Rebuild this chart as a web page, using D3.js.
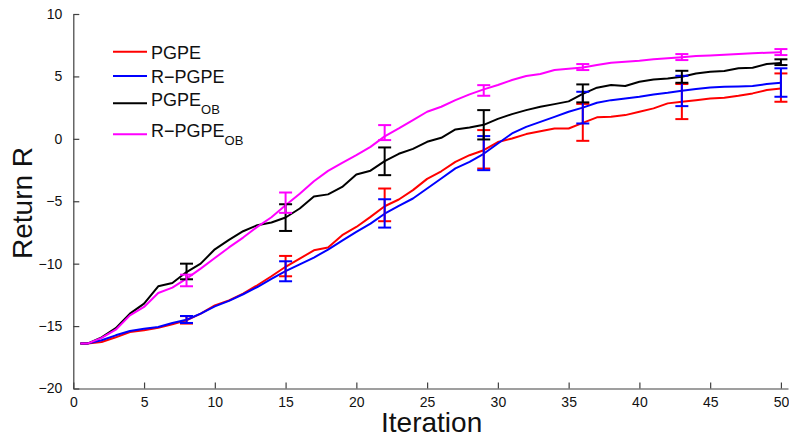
<!DOCTYPE html>
<html>
<head>
<meta charset="utf-8">
<script src="https://cdn.jsdelivr.net/npm/d3@7/dist/d3.min.js"></script>
<style>
  html, body { margin: 0; padding: 0; background: #fff; }
  svg { display: block; font-family: "Liberation Sans", Arial, Helvetica, sans-serif; }
</style>
</head>
<body>
<svg id="chart" width="789" height="436"></svg>
<script>
// ---------------- data ----------------
const iterations = [0.5, 1, 2, 3, 4, 5, 6, 7, 8, 9, 10, 11, 12, 13, 14, 15, 16, 17, 18, 19, 20,
  21, 22, 23, 24, 25, 26, 27, 28, 29, 30, 31, 32, 33, 34, 35, 36, 37, 38, 39, 40,
  41, 42, 43, 44, 45, 46, 47, 48, 49, 50];

const pgpe = [-16.4, -16.4, -16.28, -15.9, -15.47, -15.34, -15.13, -14.86, -14.54, -14.0, -13.34,
  -12.94, -12.4, -11.73, -11.01, -10.25, -9.6, -8.93, -8.7, -7.72, -7.06,
  -6.25, -5.4, -4.86, -4.11, -3.21, -2.6, -1.84, -1.31, -0.91, -0.26,
  0.03, 0.38, 0.6, 0.83, 0.83, 1.28, 1.72, 1.76, 1.9, 2.17,
  2.44, 2.84, 2.97, 3.1, 3.24, 3.29, 3.45, 3.64, 3.91, 4.04];

const rpgpe = [-16.4, -16.4, -16.14, -15.74, -15.39, -15.21, -15.07, -14.75, -14.49, -14.0, -13.42,
  -12.98, -12.45, -11.87, -11.22, -10.6, -10.05, -9.51, -8.87, -8.15, -7.46,
  -6.79, -6.0, -5.37, -4.78, -3.98, -3.18, -2.37, -1.84, -1.2, -0.37,
  0.43, 0.96, 1.36, 1.76, 2.17, 2.5, 2.89, 3.1, 3.24, 3.37,
  3.56, 3.69, 3.85, 3.99, 4.12, 4.17, 4.2, 4.23, 4.39, 4.49];

const pgpeOB = [-16.4, -16.4, -15.9, -15.16, -14.0, -13.2, -11.81, -11.55, -10.67, -10.0, -8.85,
  -8.1, -7.4, -6.92, -6.7, -6.3, -5.58, -4.62, -4.45, -3.85, -2.85,
  -2.55, -1.78, -1.2, -0.8, -0.24, 0.08, 0.75, 0.91, 1.12, 1.6,
  1.98, 2.3, 2.57, 2.78, 3.0, 3.6, 4.1, 4.31, 4.23, 4.57,
  4.76, 4.84, 4.97, 5.24, 5.37, 5.43, 5.65, 5.69, 5.99, 6.07];

const rpgpeOB = [-16.4, -16.4, -15.95, -15.29, -14.14, -13.47, -12.35, -11.92, -11.2, -10.4, -9.55,
  -8.7, -7.91, -7.05, -6.28, -5.32, -4.4, -3.4, -2.57, -1.92, -1.31,
  -0.64, 0.2, 0.83, 1.5, 2.17, 2.57, 3.1, 3.56, 3.96, 4.31,
  4.71, 5.03, 5.19, 5.51, 5.62, 5.72, 5.91, 6.1, 6.18, 6.26,
  6.37, 6.45, 6.53, 6.63, 6.68, 6.74, 6.79, 6.85, 6.9, 6.93];

// error bars (upper / lower ends) at these iterations
const errIterations = [8, 15, 22, 29, 36, 43, 50];
const pgpeUpper    = [-14.2, -9.38, -3.98, 0.7, 2.8, 4.39, 5.24];
const pgpeLower    = [-14.8, -11.01, -6.6, -2.38, -0.16, 1.58, 2.97];
const rpgpeUpper   = [-14.19, -9.81, -4.84, 0.22, 3.77, 5.05, 5.65];
const rpgpeLower   = [-14.75, -11.41, -7.11, -2.51, 1.23, 2.62, 3.37];
const pgpeOBUpper  = [-10.0, -5.24, -0.69, 2.3, 4.36, 5.45, 6.37];
const pgpeOBLower  = [-11.25, -7.38, -2.91, -0.05, 2.92, 4.49, 5.91];
const rpgpeOBUpper = [-10.88, -4.3, 1.1, 4.3, 5.99, 6.79, 7.19];
const rpgpeOBLower = [-11.81, -5.93, -0.1, 3.45, 5.51, 6.31, 6.71];

const xTicks = [0, 5, 10, 15, 20, 25, 30, 35, 40, 45, 50];
const yTicks = [-20, -15, -10, -5, 0, 5, 10];

const seriesNames = ["PGPE", "R\u2212PGPE", "PGPE", "R\u2212PGPE"];
const seriesSubs = ["", "", "OB", "OB"];
const xLabel = "Iteration";
const yLabel = "Return R";

// ---------------- build ----------------
(function () {
const colors = ["#ff0000", "#0000ff", "#000000", "#ff00ff"];
const series = [
  { values: pgpe, upper: pgpeUpper, lower: pgpeLower },
  { values: rpgpe, upper: rpgpeUpper, lower: rpgpeLower },
  { values: pgpeOB, upper: pgpeOBUpper, lower: pgpeOBLower },
  { values: rpgpeOB, upper: rpgpeOBUpper, lower: rpgpeOBLower }
].map((s, i) => ({ ...s, name: seriesNames[i], sub: seriesSubs[i], color: colors[i] }));

const svg = d3.select("#chart");
const mLeft = 73.3, mRight = 788, mTop = 14, mBottom = 388.5;

const x = d3.scaleLinear().domain([0, 50.5]).range([mLeft, mRight]);
const y = d3.scaleLinear().domain([-20, 10]).range([mBottom, mTop]);

const fmt = v => (v < 0 ? "\u2212" + Math.abs(v) : String(v));

// axes
const xAxis = d3.axisBottom(x).tickValues(xTicks).tickSizeInner(-6).tickSizeOuter(0).tickPadding(9).tickFormat(fmt);
const yAxis = d3.axisLeft(y).tickValues(yTicks).tickSizeInner(-6).tickSizeOuter(0).tickPadding(11).tickFormat(fmt);

const gx = svg.append("g").attr("transform", `translate(0,${mBottom})`).call(xAxis);
const gy = svg.append("g").attr("transform", `translate(${mLeft},0)`).call(yAxis);
[gx, gy].forEach(g => {
  g.select(".domain").attr("stroke", "#404040").attr("stroke-width", 1.2);
  g.selectAll(".tick line").attr("stroke", "#404040").attr("stroke-width", 1.2);
  g.selectAll(".tick text").attr("fill", "#111").style("font-size", "14px")
    .style("font-family", "'Liberation Sans', Arial, sans-serif");
});

// lines
const line = d3.line().x((d, i) => x(iterations[i])).y(d => y(d));
svg.append("g").selectAll("path").data(series).join("path")
  .attr("d", s => line(s.values))
  .attr("fill", "none")
  .attr("stroke", s => s.color)
  .attr("stroke-width", 2)
  .attr("stroke-linejoin", "round");

// error bars
const capHalf = 6.5;
series.forEach(s => {
  const g = svg.append("g").attr("stroke", s.color).attr("stroke-width", 2).attr("fill", "none");
  errIterations.forEach((it, k) => {
    const cx = x(it), yu = y(s.upper[k]), yl = y(s.lower[k]);
    g.append("line").attr("x1", cx).attr("x2", cx).attr("y1", yu).attr("y2", yl);
    g.append("line").attr("x1", cx - capHalf).attr("x2", cx + capHalf).attr("y1", yu).attr("y2", yu);
    g.append("line").attr("x1", cx - capHalf).attr("x2", cx + capHalf).attr("y1", yl).attr("y2", yl);
  });
});

// legend
const legendY = [51.7, 76, 103.3, 134.3];
const leg = svg.append("g");
series.forEach((s, i) => {
  const ly = legendY[i];
  leg.append("line").attr("x1", 113).attr("x2", 147).attr("y1", ly).attr("y2", ly)
    .attr("stroke", s.color).attr("stroke-width", 2);
  const base = s.sub ? ly + 2.5 : ly + 7;
  const t = leg.append("text").attr("x", 151).attr("y", base).attr("fill", "#111")
    .style("font-size", "18px");
  t.append("tspan").text(s.name);
  if (s.sub) {
    t.append("tspan").attr("dy", 8.3).style("font-size", "13px").text(s.sub);
  }
});

// axis labels
svg.append("text").attr("x", (x(0) + x(50.5)) / 2 + 1).attr("y", 431.5)
  .attr("text-anchor", "middle").attr("fill", "#111").style("font-size", "28px").text(xLabel);
svg.append("text").attr("transform", `translate(32,203) rotate(-90)`)
  .attr("text-anchor", "middle").attr("fill", "#111").style("font-size", "28px").text(yLabel);
})();
</script>
</body>
</html>
